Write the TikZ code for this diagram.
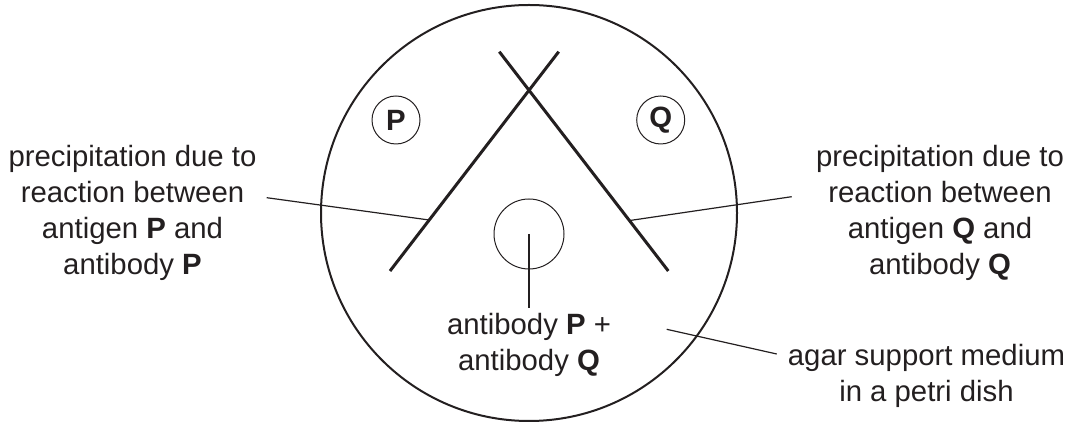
\documentclass[tikz,border=0pt]{standalone}
\usepackage{fontspec}
\setmainfont{Liberation Sans}
\usetikzlibrary{calc}
\definecolor{ink}{RGB}{35,31,32}
\begin{document}
\begin{tikzpicture}[x=0.75pt,y=-0.75pt,
  every node/.style={text=ink},
  label/.style={align=center,font=\fontsize{22}{27}\selectfont,inner sep=0pt,anchor=base},
  dish/.style={draw=ink,line width=1.5pt},
  well/.style={draw=ink,line width=0.75pt},
  precip/.style={draw=ink,line width=2.25pt},
  leader/.style={draw=ink,line width=0.9pt}]
\useasboundingbox (0,0) rectangle (1070,423);
% petri dish
\draw[dish] (529,213) circle (208);
% wells
\node[well,circle,minimum size=48*0.75pt,inner sep=0pt,font=\fontsize{22}{27}\selectfont\bfseries] (wp) at (396,120) {P};
\node[well,circle,minimum size=48*0.75pt,inner sep=0pt,font=\fontsize{22}{27}\selectfont\bfseries] (wq) at (660.7,120) {Q};
\node[well,circle,minimum size=70*0.75pt,inner sep=0pt] (wc) at (529,234) {};
% precipitation lines
\coordinate (pa) at (390,271);
\coordinate (pb) at (558.7,51.7);
\coordinate (qa) at (499.3,51.7);
\coordinate (qb) at (668.3,271);
\draw[precip] (pa) -- (pb);
\draw[precip] (qa) -- (qb);
% labels (base anchor = baseline of last line)
\node[label] (lp) at (132.5,275) {precipitation due to\\reaction between\\antigen \textbf{P} and\\antibody \textbf{P}};
\node[label] (lq) at (940,275) {precipitation due to\\reaction between\\antigen \textbf{Q} and\\antibody \textbf{Q}};
\node[label] (lc) at (529,371) {antibody \textbf{P} +\\antibody \textbf{Q}};
\node[label] (la) at (926.5,401.5) {agar support medium\\in a petri dish};
% leader ends
\coordinate (lpe) at (266.7,197.7);
\coordinate (lpl) at ($(pa)!0.2325!(pb)$);
\coordinate (lqe) at (791.7,196.7);
\coordinate (lql) at ($(qa)!0.77!(qb)$);
\coordinate (lce) at (529,308);
\coordinate (lae) at (776.7,354);
\coordinate (lad) at (666.7,329.3);
\draw[leader] (lpe) -- (lpl);
\draw[leader] (lqe) -- (lql);
\draw[leader] (wc.center) -- (lce);
\draw[leader] (lae) -- (lad);
\end{tikzpicture}
\end{document}
